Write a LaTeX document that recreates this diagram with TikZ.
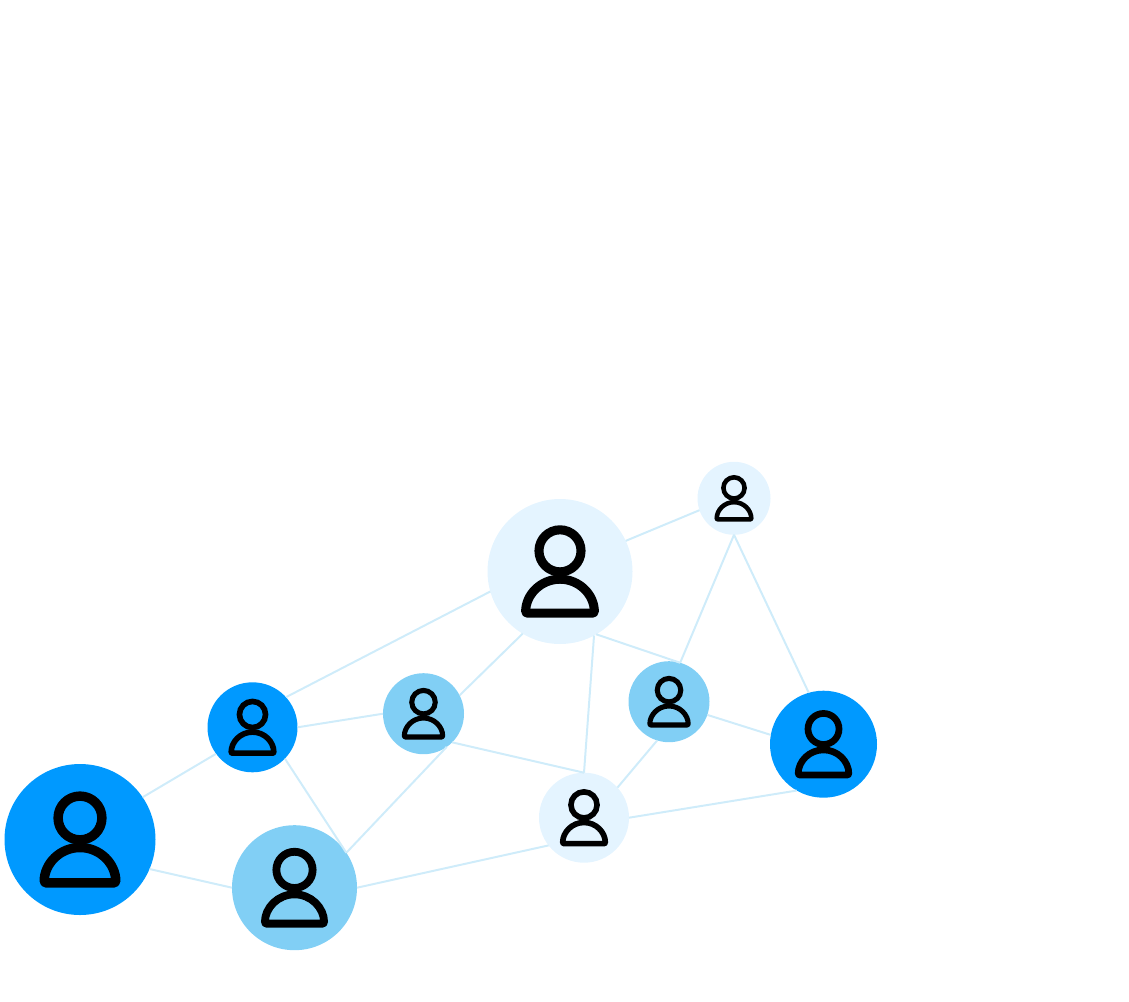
\documentclass[tikz,border=0pt]{standalone}
\definecolor{cblue}{HTML}{0099FF}
\definecolor{cmid}{HTML}{81CFF5}
\definecolor{clight}{HTML}{E4F4FF}
\definecolor{cline}{HTML}{CFECFA}
\tikzset{
  bubble/.style={circle,inner sep=0pt,outer sep=0pt,draw=none,fill=#1},
  link/.style={draw=cline,line width=2pt},
  pics/person/.style={code={
    \draw[black,line width={#1*0.125pt}] (0,{-0.285*#1}) circle [radius={0.29*#1}];
    \draw[black,line width={#1*0.125pt},line join=round,rounded corners={#1*0.02pt}]
      ({-0.474*#1},{0.575*#1}) arc [start angle=180,end angle=360,x radius={0.474*#1},y radius={0.469*#1}] -- cycle;
  }}
}
\begin{document}
\begin{tikzpicture}[x=1pt,y=-1pt]
\useasboundingbox (0,0) rectangle (1129,1001);
\node[bubble=cblue,minimum size=151pt] (A) at (80,839.5) {};
\node[bubble=cblue,minimum size=90pt] (B) at (252.5,727.3) {};
\node[bubble=clight,minimum size=145pt] (C) at (560,571.5) {};
\node[bubble=cmid,minimum size=125pt] (D) at (294.5,887.7) {};
\node[bubble=cmid,minimum size=81pt] (E) at (423.5,713.7) {};
\node[bubble=clight,minimum size=90pt] (F) at (584,817.7) {};
\node[bubble=cmid,minimum size=81pt] (G) at (669,701.7) {};
\node[bubble=clight,minimum size=73pt] (H) at (734,498.3) {};
\node[bubble=cblue,minimum size=107pt] (I) at (823.5,744.2) {};
\pic at (A) {person=75.5};
\pic at (B) {person=45};
\pic at (C) {person=72.5};
\pic at (D) {person=62.5};
\pic at (E) {person=40.5};
\pic at (F) {person=45};
\pic at (G) {person=40.5};
\pic at (H) {person=36.5};
\pic at (I) {person=53.5};
\draw[link] (A.34) -- (B.216);
\draw[link] (A.-23.5) -- (D.180);
\draw[link] (B.42) -- (C.196);
\draw[link] (B.0) -- (E.180);
\draw[link] (B.-44) -- (D.34.6);
\draw[link] (E.27.5) -- (C.239);
\draw[link] (E.-55.7) -- (D.34.6);
\draw[link] (E.-45) -- (F.90);
\draw[link] (C.25.5) -- (H.199);
\draw[link] (C.-62) -- (F.90);
\draw[link] (C.-60) -- (G.74.4);
\draw[link] (H.-90) -- (G.74.4);
\draw[link] (H.-90) -- (I.106);
\draw[link] (G.-19.6) -- (I.170);
\draw[link] (G.253) -- (F.42.7);
\draw[link] (F.0) -- (I.240);
\draw[link] (F.218.6) -- (D.0);
\end{tikzpicture}
\end{document}
